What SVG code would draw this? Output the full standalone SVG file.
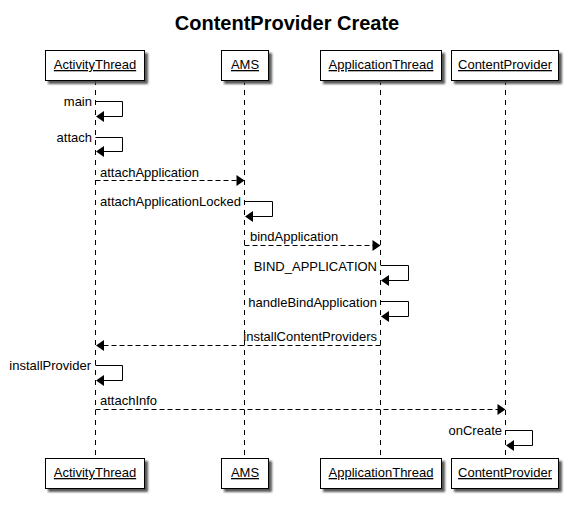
<svg xmlns="http://www.w3.org/2000/svg" width="574" height="512" viewBox="0 0 574 512">
<style>
.t{font-family:"Liberation Sans",Arial,sans-serif;font-size:13px;fill:#000}
.title{font-family:"Liberation Sans",Arial,sans-serif;font-size:20px;font-weight:bold;fill:#000}
.box{fill:#fff;stroke:#000;stroke-width:1;filter:url(#sh)}
.life{stroke:#000;stroke-width:1;stroke-dasharray:5,5;fill:none}
.msg{stroke:#000;stroke-width:1;stroke-dasharray:5,3;fill:none}
.self{stroke:#000;stroke-width:1;fill:none}
.ah{fill:#000;stroke:none}
.u{text-decoration:underline}
</style>
<defs>
<filter id="sh" x="-10%" y="-10%" width="130%" height="140%">
<feDropShadow dx="3" dy="3" stdDeviation="1" flood-color="#444" flood-opacity="0.9"/>
</filter>
</defs>
<rect width="574" height="512" fill="#fff"/>
<text class="title" x="287" y="30" text-anchor="middle">ContentProvider Create</text>
<g id="lifelines">
<line class="life" x1="95.5" y1="80" x2="95.5" y2="458"/>
<line class="life" x1="244.5" y1="80" x2="244.5" y2="458"/>
<line class="life" x1="380.5" y1="80" x2="380.5" y2="458"/>
<line class="life" x1="505.5" y1="80" x2="505.5" y2="458"/>
</g>
<g id="ActivityThread">
<rect class="box" x="45.5" y="50.5" width="99" height="30"/>
<text class="t u" x="95" y="69" text-anchor="middle">ActivityThread</text>
<rect class="box" x="45.5" y="458.5" width="99" height="30"/>
<text class="t u" x="95" y="477" text-anchor="middle">ActivityThread</text>
</g>
<g id="AMS">
<rect class="box" x="221.5" y="50.5" width="47" height="30"/>
<text class="t u" x="245" y="69" text-anchor="middle">AMS</text>
<rect class="box" x="221.5" y="458.5" width="47" height="30"/>
<text class="t u" x="245" y="477" text-anchor="middle">AMS</text>
</g>
<g id="ApplicationThread">
<rect class="box" x="320.5" y="50.5" width="121" height="30"/>
<text class="t u" x="381" y="69" text-anchor="middle">ApplicationThread</text>
<rect class="box" x="320.5" y="458.5" width="121" height="30"/>
<text class="t u" x="381" y="477" text-anchor="middle">ApplicationThread</text>
</g>
<g id="ContentProvider">
<rect class="box" x="451.5" y="50.5" width="107" height="30"/>
<text class="t u" x="505" y="69" text-anchor="middle">ContentProvider</text>
<rect class="box" x="451.5" y="458.5" width="107" height="30"/>
<text class="t u" x="505" y="477" text-anchor="middle">ContentProvider</text>
</g>
<g id="connectors">
<!-- main -->
<path class="self" d="M95.5,101.5 H122.5 V116.5 H100"/>
<polygon class="ah" points="96,116.5 104,111 104,122"/>
<text class="t" x="92" y="106" text-anchor="end">main</text>
<!-- attach -->
<path class="self" d="M95.5,137.5 H122.5 V151.5 H100"/>
<polygon class="ah" points="96,151.5 104,146 104,157"/>
<text class="t" x="92" y="142" text-anchor="end">attach</text>
<!-- attachApplication -->
<line class="msg" x1="95.5" y1="180.5" x2="238" y2="180.5"/>
<polygon class="ah" points="244.5,180.5 236.5,175 236.5,186"/>
<text class="t" x="100" y="177">attachApplication</text>
<!-- attachApplicationLocked -->
<path class="self" d="M244.5,201.5 H272.5 V216.5 H249"/>
<polygon class="ah" points="245,216.5 253,211 253,222"/>
<text class="t" x="241" y="206" text-anchor="end">attachApplicationLocked</text>
<!-- bindApplication -->
<line class="msg" x1="244.5" y1="245.5" x2="374" y2="245.5"/>
<polygon class="ah" points="380.5,245.5 372.5,240 372.5,251"/>
<text class="t" x="250" y="241">bindApplication</text>
<!-- BIND_APPLICATION -->
<path class="self" d="M380.5,265.5 H408.5 V280.5 H385"/>
<polygon class="ah" points="381,280.5 389,275 389,286"/>
<text class="t" x="377" y="270.5" text-anchor="end">BIND_APPLICATION</text>
<!-- handleBindApplication -->
<path class="self" d="M380.5,301.5 H408.5 V316.5 H385"/>
<polygon class="ah" points="381,316.5 389,311 389,322"/>
<text class="t" x="377" y="306.5" text-anchor="end">handleBindApplication</text>
<!-- installContentProviders -->
<line class="msg" x1="380.5" y1="345.5" x2="102" y2="345.5"/>
<polygon class="ah" points="96,345.5 104,340 104,351"/>
<text class="t" x="377" y="341" text-anchor="end">installContentProviders</text>
<!-- installProvider -->
<path class="self" d="M95.5,365.5 H122.5 V380.5 H100"/>
<polygon class="ah" points="96,380.5 104,375 104,386"/>
<text class="t" x="91" y="370" text-anchor="end">installProvider</text>
<!-- attachInfo -->
<line class="msg" x1="95.5" y1="409.5" x2="499" y2="409.5"/>
<polygon class="ah" points="505.5,409.5 497.5,404 497.5,415"/>
<text class="t" x="100" y="405">attachInfo</text>
<!-- onCreate -->
<path class="self" d="M505.5,430.5 H532.5 V445.5 H510"/>
<polygon class="ah" points="506,445.5 514,440 514,451"/>
<text class="t" x="502" y="435" text-anchor="end">onCreate</text>
</g>
</svg>
